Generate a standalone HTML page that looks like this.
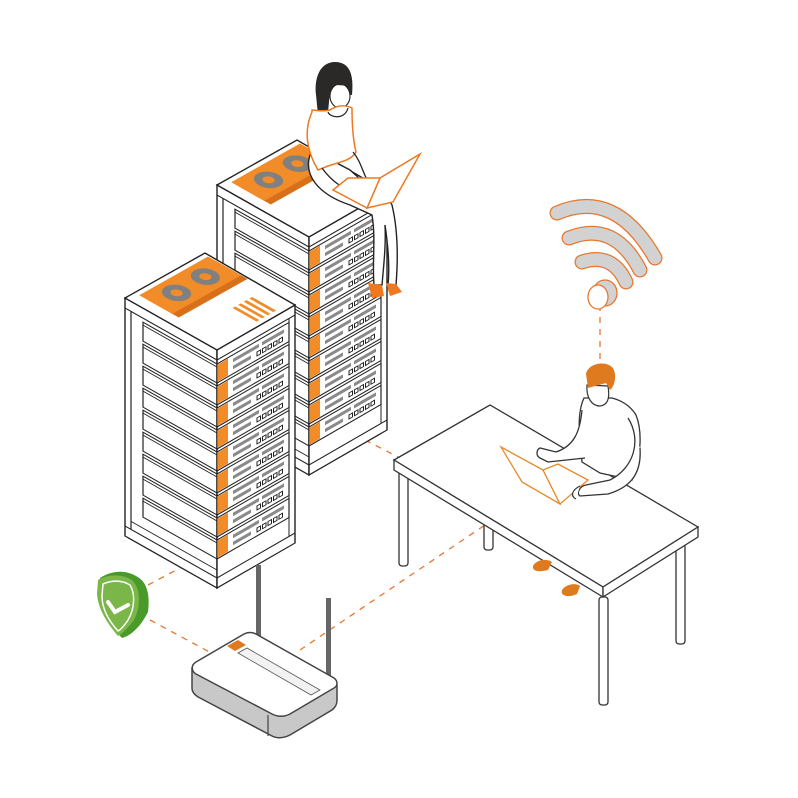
<!DOCTYPE html>
<html><head><meta charset="utf-8"><style>html,body{margin:0;padding:0;background:#fff}svg{display:block}</style></head>
<body>
<svg width="798" height="798" viewBox="0 0 798 798" xmlns="http://www.w3.org/2000/svg">
<defs>
  <g id="ru">
    <rect x="0" y="0" width="72" height="19" fill="#fff" stroke="#222" stroke-width="1.2"/>
    <rect x="1" y="1" width="10" height="17" fill="#f28c28"/>
    <rect x="16" y="4" width="26" height="3.5" fill="#8a8a8a"/>
    <rect x="45" y="4" width="22" height="3.5" fill="#8a8a8a"/>
    <rect x="16" y="11" width="18" height="3.5" fill="#8a8a8a"/>
    <g fill="none" stroke="#222" stroke-width="1">
      <rect x="40" y="11" width="3.5" height="4"/><rect x="45.5" y="11" width="3.5" height="4"/>
      <rect x="51" y="11" width="3.5" height="4"/><rect x="56.5" y="11" width="3.5" height="4"/>
      <rect x="62" y="11" width="3.5" height="4"/>
    </g>
  </g>
  <g id="lu">
    <rect x="18" y="0" width="74" height="19" fill="#fff" stroke="#222" stroke-width="1.2"/>
    <line x1="18" y1="3" x2="92" y2="3" stroke="#222" stroke-width="1"/>
  </g>
  <g id="rack">
    <g transform="matrix(1,0.565,0,1,0,0)">
      <rect x="0" y="0" width="92" height="238" fill="#fff" stroke="#222" stroke-width="1.4"/>
      <line x1="6" y1="10" x2="6" y2="228" stroke="#222" stroke-width="1.2"/>
      <line x1="0" y1="10" x2="92" y2="10" stroke="#222" stroke-width="1.2"/>
      <line x1="0" y1="228" x2="92" y2="228" stroke="#222" stroke-width="1.2"/>
      <line x1="6" y1="220" x2="92" y2="220" stroke="#222" stroke-width="1"/>
      <use href="#lu" y="14"/><use href="#lu" y="36"/><use href="#lu" y="58"/><use href="#lu" y="80"/>
      <use href="#lu" y="102"/><use href="#lu" y="124"/><use href="#lu" y="146"/><use href="#lu" y="168"/><use href="#lu" y="190"/>
    </g>
    <g transform="matrix(1,-0.577,0,1,92,52)">
      <rect x="0" y="0" width="78" height="238" fill="#fff" stroke="#222" stroke-width="1.4"/>
      <line x1="0" y1="10" x2="78" y2="10" stroke="#222" stroke-width="1.2"/>
      <line x1="0" y1="228" x2="78" y2="228" stroke="#222" stroke-width="1.2"/>
      <line x1="72" y1="10" x2="72" y2="228" stroke="#222" stroke-width="1"/>
      <use href="#ru" y="14"/><use href="#ru" y="36"/><use href="#ru" y="58"/><use href="#ru" y="80"/>
      <use href="#ru" y="102"/><use href="#ru" y="124"/><use href="#ru" y="146"/><use href="#ru" y="168"/><use href="#ru" y="190"/>
    </g>
    <polygon points="0,0 80,-45 170,7 92,52" fill="#fff" stroke="#222" stroke-width="1.4"/>
    <g transform="matrix(0.8,-0.45,0.92,0.52,0,0)">
      <polygon points="12,9 98,9 98,44 12,44" fill="#d8701a" transform="translate(0,4)"/>
      <rect x="12" y="5" width="86" height="36" fill="#f28c28"/>
      <circle cx="38" cy="23" r="12" fill="#808080"/><circle cx="38" cy="23" r="5" fill="#f28c28"/>
      <circle cx="74" cy="23" r="12" fill="#808080"/><circle cx="74" cy="23" r="5" fill="#f28c28"/>
    </g>
  </g>
</defs>

<g stroke="#e8772e" stroke-width="1.3" stroke-dasharray="6,6" fill="none">
  <line x1="600" y1="305" x2="600" y2="365"/>
  <line x1="365" y1="440" x2="400" y2="458"/>
  <line x1="300" y1="650" x2="485" y2="525"/>
  <line x1="148" y1="585" x2="180" y2="568"/>
  <line x1="150" y1="620" x2="215" y2="655"/>
</g>

<use href="#rack" transform="translate(217,185)"/>
<use href="#rack" transform="translate(125,298)"/>
<g transform="matrix(0.8,-0.45,0.92,0.52,125,298)" stroke="#f28c28" stroke-width="3.5">
  <line x1="58" y1="68" x2="58" y2="94"/><line x1="65" y1="68" x2="65" y2="94"/>
  <line x1="72" y1="68" x2="72" y2="94"/><line x1="79" y1="68" x2="79" y2="94"/>
</g>

<!-- woman -->
<path d="M312,150 C300,175 320,195 350,205 L372,215 C376,240 372,262 374,285 L382,285 C384,262 386,245 385,225 C388,245 390,265 388,285 L396,285 C398,260 398,230 392,205 C388,195 380,190 370,188 L350,170 Z" fill="#fff" stroke="#222" stroke-width="1.4"/>
<path d="M335,62 C320,62 314,78 316,95 L318,115 L328,112 L330,92 L352,95 C354,75 350,62 335,62 Z" fill="#2b2927"/>
<ellipse cx="340" cy="96" rx="10" ry="12" fill="#fff" stroke="#222" stroke-width="1.1"/>
<path d="M336,85 L352,86 C352,78 346,70 338,72 Z" fill="#2b2927"/>
<path d="M312,112 C304,130 306,150 318,170 L328,166 C340,162 352,160 356,152 C353,140 352,125 352,108 C344,104 336,106 330,110 C322,112 316,110 312,110 Z" fill="#fff" stroke="#f07820" stroke-width="1.5"/>
<path d="M328,112 C330,118 345,120 348,108" fill="none" stroke="#222" stroke-width="1.2"/>
<path d="M322,168 C332,182 345,190 352,190 M353,152 C360,160 362,170 368,182" fill="none" stroke="#222" stroke-width="1.3"/>
<polygon points="420,154 380,178 367,208 393,202" fill="#fff" stroke="#f07820" stroke-width="1.5"/>
<polygon points="380,178 348,178 333,190 367,208" fill="#fff" stroke="#f07820" stroke-width="1.5"/>
<path d="M368,283 L372,298 L384,296 L382,285 Z M386,283 L390,296 L402,292 L396,284 Z" fill="#f07820"/>

<!-- wifi -->
<g fill="none" stroke-linecap="round">
  <g stroke="#e8772e" stroke-width="15">
    <path d="M557,213 Q615,188 655,258"/><path d="M569,238 Q614,220 640,270"/><path d="M582,262 Q612,252 626,282"/>
  </g>
  <g stroke="#d2d2d2" stroke-width="12.5">
    <path d="M557,213 Q615,188 655,258"/><path d="M569,238 Q614,220 640,270"/><path d="M582,262 Q612,252 626,282"/>
  </g>
</g>
<ellipse cx="605" cy="293" rx="12" ry="13" fill="#d2d2d2" stroke="#e8772e" stroke-width="1.3"/>
<ellipse cx="598" cy="297" rx="10" ry="12" fill="#fff" stroke="#e8772e" stroke-width="1.3"/>

<!-- desk legs -->
<g stroke="#333" stroke-width="1.3" fill="#fff">
  <rect x="399" y="470" width="9" height="96" rx="3"/>
  <rect x="484" y="523" width="9" height="27" rx="3"/>
  <rect x="676" y="544" width="9" height="100" rx="3"/>
</g>
<!-- desk top -->
<polygon points="394,460 490,405 698,527 603,587" fill="#fff" stroke="#333" stroke-width="1.3"/>
<polygon points="394,460 603,587 603,597 394,470" fill="#fff" stroke="#333" stroke-width="1.3"/>
<polygon points="603,587 698,527 698,537 603,597" fill="#fff" stroke="#333" stroke-width="1.3"/>
<rect x="599" y="597" width="9" height="108" rx="3" fill="#fff" stroke="#333" stroke-width="1.3"/>

<!-- man (drawn over desk) -->
<g stroke="#333" stroke-width="1.3" fill="#fff">
  <path d="M584,398 C576,415 580,440 582,462 L600,473 L632,480 C642,455 642,430 636,415 C630,405 620,400 612,398 Z"/>
  <path d="M582,410 C580,432 574,446 556,452 L540,448 C536,450 536,456 540,458 L548,462 L585,458" />
  <path d="M628,418 C642,440 634,468 610,480 L586,485 C580,486 576,493 580,496 L608,494 C628,488 642,476 640,448"/>
</g>
<path d="M587,385 C586,398 592,406 600,406 C608,405 610,398 608,386 Z" fill="#fff" stroke="#333" stroke-width="1.2"/>
<path d="M586,374 C588,363 606,360 613,368 C617,375 615,386 610,390 L606,383 L588,388 Z" fill="#e07a1e"/>
<!-- laptop -->
<polygon points="501,447 543,470 560,504 522,482" fill="#fff" stroke="#e8892a" stroke-width="1.3"/>
<polygon points="543,470 558,464 588,480 560,504" fill="#fff" stroke="#e8892a" stroke-width="1.3"/>
<path d="M580,486 C572,490 570,496 576,499" fill="#fff" stroke="#333" stroke-width="1.2"/>
<!-- man feet -->
<path d="M533,566 C536,560 546,558 552,562 L548,570 C540,572 532,572 533,566 Z M562,590 C565,585 575,582 580,586 L577,594 C568,598 560,596 562,590 Z" fill="#e07a1e"/>

<!-- shield -->
<path d="M100,578 C112,570 126,570 136,576 C148,582 150,596 148,612 C140,628 130,636 122,638 C112,628 100,612 98,596 Z" fill="#4a9a2a"/>
<path d="M98,580 C108,574 122,574 132,580 C142,590 140,608 134,620 C128,628 122,634 118,636 C106,622 98,608 97,594 Z" fill="#7ab648"/>
<path d="M103,584 C112,580 122,580 130,585 C136,595 134,610 128,620 C124,626 120,630 118,631 C108,620 102,608 102,596 Z" fill="none" stroke="#fff" stroke-width="1.5"/>
<path d="M108,602 L115,612 L128,605" fill="none" stroke="#fff" stroke-width="4" stroke-linecap="round"/>

<!-- router -->
<rect x="256" y="565" width="5" height="75" fill="#666"/>
<rect x="326" y="598" width="5" height="84" fill="#666"/>
<path d="M192,668 L192,688 C192,693 196,696 200,698 L272,736 C278,739 284,738 290,735 L332,710 C336,707 337,704 337,700 L337,685 Z" fill="#c8c8c8" stroke="#444" stroke-width="1.5"/>
<path d="M196,662 L244,634 C248,632 252,632 256,634 L334,678 C338,681 338,686 334,688 L290,714 C284,717 278,717 272,714 L196,674 C191,671 191,665 196,662 Z" fill="#fff" stroke="#444" stroke-width="1.5"/>
<polygon points="227,646 238,640 246,645 235,651" fill="#e07a1e"/>
<polygon points="238,653 247,648 320,690 311,695" fill="#f2f2f2" stroke="#555" stroke-width="0.8"/>
<line x1="268" y1="715" x2="268" y2="736" stroke="#444" stroke-width="1.2"/>
</svg>
</body></html>
